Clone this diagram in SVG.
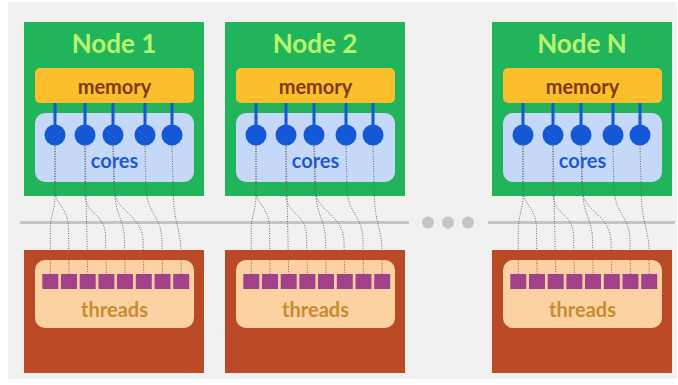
<svg xmlns="http://www.w3.org/2000/svg" xmlns:xlink="http://www.w3.org/1999/xlink" width="678" height="385" viewBox="0 0 678 385">
<style>
.bg{fill:#f1f2f0}
.green{fill:#21b45b}
.red{fill:#ba4a26}
.mem{fill:#fbbf2d}
.coresbox{fill:#c6d8f7}
.thrbox{fill:#fdd2a2}
.core{fill:#1558d6}
.stem{stroke:#1558d6;stroke-width:3}
.sq{fill:#a1418b}
.t{font-family:Lato,"Open Sans","DejaVu Sans",sans-serif;font-weight:bold;text-anchor:middle}
.title{font-size:26px;fill:#b9f56c}
.memt{font-size:20px;fill:#7b3a12}
.coret{font-size:20px;fill:#1d5bd6}
.thrt{font-size:20px;fill:#c88b2e}
.sep{stroke:#c5c6c4;stroke-width:3}
.dot{fill:#c5c6c4}
.wire{fill:none;stroke:#666;stroke-width:1;stroke-dasharray:1 1.5}
</style>
<defs>
<g id="wires">
<path class="wire" d="M55,146 L55,195 C55,210 50.3,215 50.3,230 L50.3,274"/>
<path class="wire" d="M55,146 L55,190 C55,205 68,207 68.5,228 L69,274"/>
<path class="wire" d="M85,146 L87.7,274"/>
<path class="wire" d="M85,146 L85,195 C86,215 104,212 105.5,235 L106.4,274"/>
<path class="wire" d="M113,146 L115,195 C116,215 124,220 124.6,240 L125,274"/>
<path class="wire" d="M113,146 L114,190 C116,212 141,214 143,240 L143.8,274"/>
<path class="wire" d="M145,146 L146,190 C148,215 161,215 162,240 L162.5,274"/>
<path class="wire" d="M172,146 L173.5,200 C175,225 180.5,230 181,250 L181.2,274"/>
</g>
</defs>
<rect class="bg" x="8" y="2" width="669" height="377"/>
<g id="separator">
<line class="sep" x1="20" y1="222.5" x2="409" y2="222.5"/>
<circle class="dot" cx="428" cy="222.5" r="6"/>
<circle class="dot" cx="448" cy="222.5" r="6"/>
<circle class="dot" cx="468" cy="222.5" r="6"/>
<line class="sep" x1="488" y1="222.5" x2="675" y2="222.5"/>
</g>
<g id="node1">
<rect class="green" x="24" y="22" width="180" height="174"/>
<text class="t title" x="114" y="52.5">Node 1</text>
<rect class="mem" x="35" y="68" width="159" height="35" rx="5"/>
<text class="t memt" x="114.5" y="94">memory</text>
<rect class="coresbox" x="35" y="113" width="159" height="69" rx="10"/>
<g class="stem"><line x1="55" y1="103" x2="55" y2="135"/><line x1="85" y1="103" x2="85" y2="135"/><line x1="113" y1="103" x2="113" y2="135"/><line x1="145" y1="103" x2="145" y2="135"/><line x1="172" y1="103" x2="172" y2="135"/></g>
<circle class="core" cx="55" cy="135" r="10.5"/><circle class="core" cx="85" cy="135" r="10.5"/><circle class="core" cx="113" cy="135" r="10.5"/><circle class="core" cx="145" cy="135" r="10.5"/><circle class="core" cx="172" cy="135" r="10.5"/>
<text class="t coret" x="114.5" y="168">cores</text>
<rect class="red" x="24" y="250" width="180" height="123"/>
<rect class="thrbox" x="35" y="260" width="159" height="68" rx="10"/>
<rect class="sq" x="42.3" y="274" width="16" height="15"/><rect class="sq" x="61" y="274" width="16" height="15"/><rect class="sq" x="79.7" y="274" width="16" height="15"/><rect class="sq" x="98.4" y="274" width="16" height="15"/><rect class="sq" x="117" y="274" width="16" height="15"/><rect class="sq" x="135.8" y="274" width="16" height="15"/><rect class="sq" x="154.5" y="274" width="16" height="15"/><rect class="sq" x="173.2" y="274" width="16" height="15"/>
<text class="t thrt" x="114.5" y="316.5">threads</text>
</g>
<g id="node2" transform="translate(201,0)">
<rect class="green" x="24" y="22" width="180" height="174"/>
<text class="t title" x="114" y="52.5">Node 2</text>
<rect class="mem" x="35" y="68" width="159" height="35" rx="5"/>
<text class="t memt" x="114.5" y="94">memory</text>
<rect class="coresbox" x="35" y="113" width="159" height="69" rx="10"/>
<g class="stem"><line x1="55" y1="103" x2="55" y2="135"/><line x1="85" y1="103" x2="85" y2="135"/><line x1="113" y1="103" x2="113" y2="135"/><line x1="145" y1="103" x2="145" y2="135"/><line x1="172" y1="103" x2="172" y2="135"/></g>
<circle class="core" cx="55" cy="135" r="10.5"/><circle class="core" cx="85" cy="135" r="10.5"/><circle class="core" cx="113" cy="135" r="10.5"/><circle class="core" cx="145" cy="135" r="10.5"/><circle class="core" cx="172" cy="135" r="10.5"/>
<text class="t coret" x="114.5" y="168">cores</text>
<rect class="red" x="24" y="250" width="180" height="123"/>
<rect class="thrbox" x="35" y="260" width="159" height="68" rx="10"/>
<rect class="sq" x="42.3" y="274" width="16" height="15"/><rect class="sq" x="61" y="274" width="16" height="15"/><rect class="sq" x="79.7" y="274" width="16" height="15"/><rect class="sq" x="98.4" y="274" width="16" height="15"/><rect class="sq" x="117" y="274" width="16" height="15"/><rect class="sq" x="135.8" y="274" width="16" height="15"/><rect class="sq" x="154.5" y="274" width="16" height="15"/><rect class="sq" x="173.2" y="274" width="16" height="15"/>
<text class="t thrt" x="114.5" y="316.5">threads</text>
</g>
<g id="nodeN" transform="translate(468,0)">
<rect class="green" x="24" y="22" width="180" height="174"/>
<text class="t title" x="114" y="52.5">Node N</text>
<rect class="mem" x="35" y="68" width="159" height="35" rx="5"/>
<text class="t memt" x="114.5" y="94">memory</text>
<rect class="coresbox" x="35" y="113" width="159" height="69" rx="10"/>
<g class="stem"><line x1="55" y1="103" x2="55" y2="135"/><line x1="85" y1="103" x2="85" y2="135"/><line x1="113" y1="103" x2="113" y2="135"/><line x1="145" y1="103" x2="145" y2="135"/><line x1="172" y1="103" x2="172" y2="135"/></g>
<circle class="core" cx="55" cy="135" r="10.5"/><circle class="core" cx="85" cy="135" r="10.5"/><circle class="core" cx="113" cy="135" r="10.5"/><circle class="core" cx="145" cy="135" r="10.5"/><circle class="core" cx="172" cy="135" r="10.5"/>
<text class="t coret" x="114.5" y="168">cores</text>
<rect class="red" x="24" y="250" width="180" height="123"/>
<rect class="thrbox" x="35" y="260" width="159" height="68" rx="10"/>
<rect class="sq" x="42.3" y="274" width="16" height="15"/><rect class="sq" x="61" y="274" width="16" height="15"/><rect class="sq" x="79.7" y="274" width="16" height="15"/><rect class="sq" x="98.4" y="274" width="16" height="15"/><rect class="sq" x="117" y="274" width="16" height="15"/><rect class="sq" x="135.8" y="274" width="16" height="15"/><rect class="sq" x="154.5" y="274" width="16" height="15"/><rect class="sq" x="173.2" y="274" width="16" height="15"/>
<text class="t thrt" x="114.5" y="316.5">threads</text>
</g>
<g id="connectors">
<use xlink:href="#wires"/>
<use xlink:href="#wires" transform="translate(201,0)"/>
<use xlink:href="#wires" transform="translate(468,0)"/>
</g>
</svg>
